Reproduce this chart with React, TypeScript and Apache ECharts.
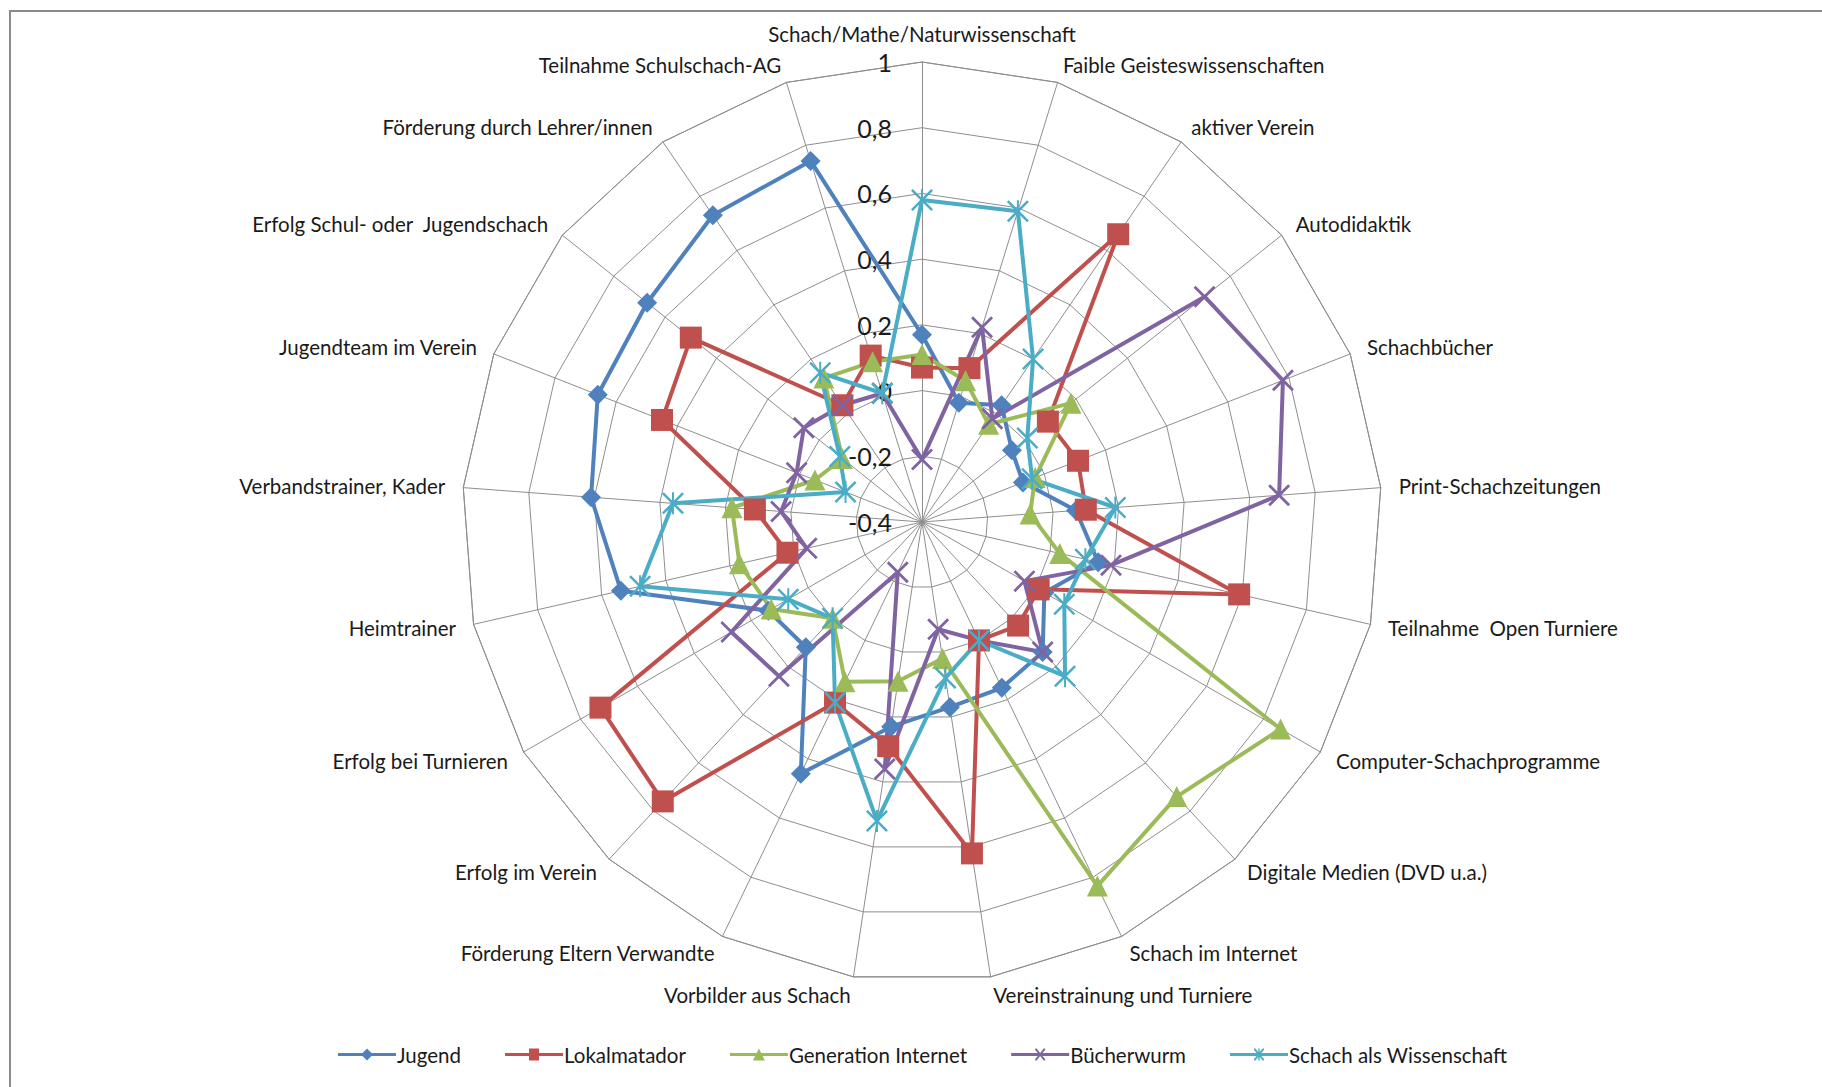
import React, { useEffect, useRef } from "react";
import * as echarts from "echarts";

const categories = [
  "Schach/Mathe/Naturwissenschaft",
  "Faible Geisteswissenschaften",
  "aktiver Verein",
  "Autodidaktik",
  "Schachbücher",
  "Print-Schachzeitungen",
  "Teilnahme  Open Turniere",
  "Computer-Schachprogramme",
  "Digitale Medien (DVD u.a.)",
  "Schach im Internet",
  "Vereinstrainung und Turniere",
  "Vorbilder aus Schach",
  "Förderung Eltern Verwandte",
  "Erfolg im Verein",
  "Erfolg bei Turnieren",
  "Heimtrainer",
  "Verbandstrainer, Kader",
  "Jugendteam im Verein",
  "Erfolg Schul- oder  Jugendschach",
  "Förderung durch Lehrer/innen",
  "Teilnahme Schulschach-AG",
];

const seriesNames = [
  "Jugend",
  "Lokalmatador",
  "Generation Internet",
  "Bücherwurm",
  "Schach als Wissenschaft",
];

const jugend = [0.17, -0.02, 0.03, -0.05, -0.07, 0.07, 0.15, 0.03, 0.14, 0.16, 0.17, 0.23, 0.45, 0.12, 0.14, 0.54, 0.61, 0.66, 0.67, 0.73, 0.75];
const lokalmatador = [0.07, 0.09, 0.66, 0.09, 0.11, 0.1, 0.59, 0.01, 0.03, 0.0, 0.62, 0.29, 0.21, 0.76, 0.73, 0.02, 0.11, 0.45, 0.5, 0.03, 0.13];
const generationInternet = [0.11, 0.05, -0.04, 0.18, -0.03, -0.07, 0.03, 0.86, 0.74, 0.83, 0.02, 0.09, 0.14, 0.0, 0.13, 0.17, 0.18, -0.05, -0.09, 0.13, 0.11];
const buecherwurm = [-0.21, 0.22, -0.02, 0.7, 0.78, 0.69, 0.19, -0.04, 0.14, 0.0, -0.07, 0.36, -0.23, 0.24, 0.27, -0.04, 0.03, 0.01, 0.06, 0.03, 0.01];
const schachWissenschaft = [0.58, 0.59, 0.2, 0.01, -0.04, 0.19, 0.11, 0.1, 0.24, 0.0, 0.08, 0.52, 0.21, 0.0, 0.07, 0.48, 0.36, -0.15, -0.08, 0.15, 0.01];

const axisMin = -0.4;
const axisMax = 1;
const axisSplits = 7;

const colors = ["#4F81BD", "#C0504D", "#9BBB59", "#8064A2", "#4BACC6"];

const X_PATH =
  "path://M0,1.8 L1.8,0 L10,8.2 L18.2,0 L20,1.8 L11.8,10 L20,18.2 L18.2,20 L10,11.8 L1.8,20 L0,18.2 L8.2,10 Z";
const STAR_PATH =
  "path://M0,1.6 L1.6,0 L10,8.4 L18.4,0 L20,1.6 L11.6,10 L20,18.4 L18.4,20 L10,11.6 L1.6,20 L0,18.4 L8.4,10 Z M9.1,0 L10.9,0 L10.9,20 L9.1,20 Z";

const symbols = ["diamond", "rect", "triangle", X_PATH, STAR_PATH];
const symbolSizes = [20, 22, 21, 22, 22];

const LINE = "M0,4.5 L58,4.5 L58,7.5 L0,7.5 Z ";
const legendIcons = [
  "path://" + LINE + "M29,0 L35,6 L29,12 L23,6 Z",
  "path://" + LINE + "M24,0 L34,0 L34,12 L24,12 Z",
  "path://" + LINE + "M29,0 L35,12 L23,12 Z",
  "path://" + LINE + "M24,0 L25.5,0 L29,4.5 L32.5,0 L34,0 L34,1.5 L30,6 L34,10.5 L34,12 L32.5,12 L29,7.5 L25.5,12 L24,12 L24,10.5 L28,6 L24,1.5 Z",
  "path://" + LINE + "M24,0 L25.5,0 L29,4.5 L32.5,0 L34,0 L34,1.5 L30,6 L34,10.5 L34,12 L32.5,12 L29,7.5 L25.5,12 L24,12 L24,10.5 L28,6 L24,1.5 Z M28.3,0 L29.7,0 L29.7,12 L28.3,12 Z",
];

const FONT = "Lato, 'Noto Sans', sans-serif";

// ECharts radar runs counter-clockwise; reorder so the categories run clockwise from the top.
function clockwise<T>(arr: T[]): T[] {
  return [arr[0], ...arr.slice(1).reverse()];
}

export default function App() {
  const ref = useRef<HTMLDivElement>(null);

  useEffect(() => {
    if (!ref.current) return;
    const chart = echarts.init(ref.current, null, { renderer: "svg" });
    const allValues = [jugend, lokalmatador, generationInternet, buecherwurm, schachWissenschaft];

    const indicator = clockwise(categories).map((name, i) => {
      const ind: any = { name, min: axisMin, max: axisMax };
      if (i === 0) {
        ind.axisLabel = {
          show: true,
          margin: 30,
          fontSize: 25,
          color: "#1a1a1a",
          fontFamily: FONT,
          formatter: (v: number) => String(Math.round(v * 10) / 10).replace(".", ","),
        };
      }
      return ind;
    });

    const option: any = {
      animation: false,
      backgroundColor: "#ffffff",
      graphic: [
        {
          type: "rect",
          shape: { x: 10, y: 11, width: 1840, height: 1110 },
          style: { fill: "none", stroke: "#8a8a8a", lineWidth: 2 },
          silent: true,
          z: -10,
        },
      ],
      legend: {
        top: 1039,
        left: 333,
        itemWidth: 58,
        itemHeight: 12,
        itemGap: 44,
        textStyle: { fontSize: 20.5, color: "#1a1a1a", fontFamily: FONT, padding: [0, 0, 0, -4] },
        data: seriesNames.map((n, i) => ({ name: n, icon: legendIcons[i] })),
        selectedMode: false,
      },
      radar: {
        center: [922, 522],
        radius: 460,
        startAngle: 90,
        shape: "polygon",
        splitNumber: axisSplits,
        indicator,
        nameGap: 18,
        axisName: { color: "#1a1a1a", fontSize: 20.5, fontFamily: FONT },
        axisLine: { show: true, lineStyle: { color: "#8e8e8e", width: 1 } },
        splitLine: { show: true, lineStyle: { color: "#8e8e8e", width: 1 } },
        splitArea: { show: false },
        axisTick: { show: false },
        axisLabel: { show: false },
      },
      series: seriesNames.map((name, i) => ({
        name,
        type: "radar",
        silent: true,
        symbol: symbols[i],
        symbolSize: symbolSizes[i],
        itemStyle: { color: colors[i] },
        lineStyle: { color: colors[i], width: 4 },
        emphasis: { disabled: true },
        data: [{ name, value: clockwise(allValues[i]) }],
      })),
    };
    chart.setOption(option);
    return () => chart.dispose();
  }, []);

  return (
    <div
      ref={ref}
      style={{ position: "absolute", left: 0, top: 0, width: 1822, height: 1087, background: "#fff" }}
    />
  );
}
